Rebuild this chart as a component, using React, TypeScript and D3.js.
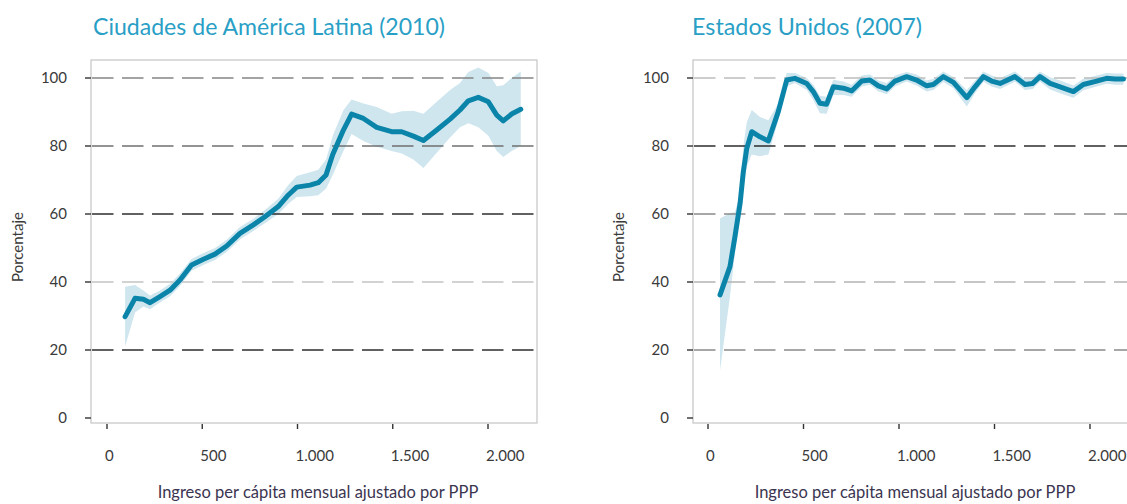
import React from "react";
import * as d3 from "d3";

// ---------- data ----------
const yTicks = [0, 20, 40, 60, 80, 100];
const xTicks = [0, 500, 1000, 1500, 2000];
const xTickLabels = ["0", "500", "1.000", "1.500", "2.000"];
const gridLevels = [20, 40, 60, 80, 100];

const titles = ["Ciudades de América Latina (2010)", "Estados Unidos (2007)"];
const xAxisTitle = "Ingreso per cápita mensual ajustado por PPP";
const yAxisTitle = "Porcentaje";

// Latin America: income, estimate, upper, lower
const latamIncome = [95, 147, 191, 226, 278, 331, 383, 444, 506, 567, 628, 698, 768, 829, 899, 952, 996, 1066, 1109, 1150, 1185, 1241, 1284, 1346, 1416, 1494, 1547, 1608, 1661, 1731, 1801, 1853, 1897, 1949, 2002, 2046, 2080, 2124, 2172];
const latamValue = [29.8, 35.2, 34.9, 33.9, 35.7, 37.6, 40.6, 45, 46.7, 48.2, 50.6, 54.3, 56.8, 59.2, 62.2, 65.6, 67.9, 68.5, 69.2, 71.5, 77.5, 84.7, 89.4, 88.1, 85.5, 84.2, 84.2, 82.9, 81.6, 84.7, 87.9, 90.6, 93.3, 94.3, 93.0, 89.1, 87.4, 89.4, 90.8];
const latamUpper = [38.6, 39.1, 37.5, 36, 37.5, 39.5, 42.5, 46.8, 48.5, 50, 52.4, 56.2, 58.6, 61.2, 64.5, 68.5, 71.2, 72.3, 73, 76, 83, 90.5, 93.7, 92.5, 91.5, 89.5, 90.2, 90.4, 89.5, 93, 96.5, 98.5, 101.8, 103.1, 101.5, 97.6, 97.9, 100, 101.9];
const latamLower = [21, 31, 32.8, 32, 34, 35.8, 38.8, 43.3, 45, 46.5, 48.8, 52.5, 55, 57.3, 60, 63, 65, 65.2, 65.5, 67.5, 71.5, 78.5, 83.5, 81.5, 79.8, 78.5, 77.8, 76, 73.5, 78, 82.5, 85.5, 86.7, 85.5, 83, 78.5, 76.8, 78.5, 80];

// United States
const usIncome = [63, 115, 141, 168, 185, 203, 229, 272, 316, 368, 412, 455, 517, 551, 586, 621, 656, 709, 752, 805, 848, 892, 936, 979, 1040, 1092, 1145, 1180, 1232, 1285, 1355, 1398, 1442, 1485, 1529, 1607, 1660, 1700, 1738, 1791, 1843, 1913, 1965, 2035, 2087, 2131, 2175];
const usValue = [36.2, 44.5, 53.3, 63.1, 72.5, 79.3, 84.2, 82.7, 81.5, 90.1, 99.4, 99.9, 98.4, 96, 92.6, 92.3, 97.4, 97, 96.2, 99.1, 99.4, 97.7, 96.8, 99.1, 100.4, 99.4, 97.7, 98.1, 100.4, 98.7, 94.2, 97.4, 100.4, 99.1, 98.4, 100.4, 98.1, 98.4, 100.4, 98.4, 97.4, 96, 98.1, 99.1, 99.9, 99.7, 99.7];
const usUpper = [58.7, 60.3, 60.5, 66, 80, 87, 90.6, 88.5, 87.6, 92.5, 101.5, 101.5, 100, 98, 94.8, 94.5, 99.5, 99, 98, 100.7, 101, 99.3, 98.5, 100.7, 101.8, 101, 99.3, 99.8, 101.9, 100.3, 96.5, 99.3, 101.9, 100.7, 100, 101.9, 99.7, 100, 101.9, 100.2, 99.3, 97.8, 99.8, 100.7, 101.5, 101.3, 101.3];
const usLower = [14, 35.7, 48.5, 60, 68, 74, 77.5, 77, 77.5, 87.5, 97.5, 98.5, 96.5, 93.5, 89.6, 89.5, 95, 95, 94.5, 97.5, 98, 96, 95.2, 97.5, 99, 97.8, 96, 96.5, 98.8, 97, 91.6, 95.5, 98.9, 97.5, 96.8, 98.9, 96.5, 96.8, 98.9, 96.6, 95.5, 94.2, 96.4, 97.5, 98.3, 98, 98];

// grid line colours per panel (in gridLevels order)
const latamGridColors = ["#2e2e2e", "#c4c4c4", "#2e2e2e", "#707070", "#858585"];
const usGridColors = ["#8a8a8a", "#b4b4b4", "#8a8a8a", "#2e2e2e", "#bdbdbd"];

const LINE = "#0a84a8";
const BAND = "#cfe6ef";
const TITLE = "#2a9fc6";
const TEXT = "#3a3a3a";
const FONT = "Lato, 'Open Sans', sans-serif";

type Pt = { x: number; v: number; u: number; l: number };

function Panel(props: {
  frameX0: number;
  frameX1: number;
  x0px: number;
  x2000px: number;
  title: string;
  titleX: number;
  titleW: number;
  yTitleX: number;
  xTitleX: number;
  income: number[];
  value: number[];
  upper: number[];
  lower: number[];
  gridColors: string[];
}) {
  const p = props;
  const top = 60;
  const bottom = 423;
  const x = d3.scaleLinear().domain([0, 2000]).range([p.x0px, p.x2000px]);
  const y = d3.scaleLinear().domain([0, 100]).range([418, 78]);
  const pts: Pt[] = p.income.map((inc, i) => ({ x: inc, v: p.value[i], u: p.upper[i], l: p.lower[i] }));
  const area = d3
    .area<Pt>()
    .x((d) => x(d.x))
    .y0((d) => y(d.l))
    .y1((d) => y(d.u));
  const line = d3
    .line<Pt>()
    .x((d) => x(d.x))
    .y((d) => y(d.v));
  return (
    <g>
      <text x={p.titleX} y={35} fontFamily={FONT} fontSize={23} fill={TITLE} textLength={p.titleW} lengthAdjust="spacingAndGlyphs">
        {p.title}
      </text>
      <rect x={p.frameX0} y={top} width={p.frameX1 - p.frameX0} height={bottom - top} fill="none" stroke="#c9c9c9" strokeWidth={1.3} />
      <path d={area(pts) || ""} fill={BAND} />
      {gridLevels.map((g, i) => (
        <line
          key={g}
          x1={p.frameX0 + 1}
          x2={p.frameX1}
          y1={y(g)}
          y2={y(g)}
          stroke={p.gridColors[i]}
          strokeWidth={1.6}
          strokeDasharray="21.5 8.5"
        />
      ))}
      <path d={line(pts) || ""} fill="none" stroke={LINE} strokeWidth={5} strokeLinejoin="round" strokeLinecap="round" />
      {yTicks.map((t) => (
        <g key={t}>
          <line x1={p.frameX0 - 6} x2={p.frameX0} y1={y(t)} y2={y(t)} stroke="#333" strokeWidth={1.4} />
          <text x={p.frameX0 - 24} y={y(t) + 5} textAnchor="end" fontFamily={FONT} fontSize={15} fill={TEXT}>
            {t}
          </text>
        </g>
      ))}
      {xTicks.map((t, i) => (
        <g key={t}>
          <line x1={x(t)} x2={x(t)} y1={424} y2={429} stroke="#333" strokeWidth={1.4} />
          <text x={x(t) - 2} y={461} textAnchor="start" fontFamily={FONT} fontSize={15} fill={TEXT}>
            {xTickLabels[i]}
          </text>
        </g>
      ))}
      <text x={p.xTitleX} y={498} textAnchor="middle" fontFamily={FONT} fontSize={16.5} fill="#3b3550">
        {xAxisTitle}
      </text>
      <text
        transform={`translate(${p.yTitleX},247) rotate(-90)`}
        textAnchor="middle"
        fontFamily={FONT}
        fontSize={15}
        fill={TEXT}
      >
        {yAxisTitle}
      </text>
    </g>
  );
}

export default function App() {
  return (
    <svg
      width={1127}
      height={504}
      style={{ position: "absolute", left: 0, top: 0, background: "#fff" }}
    >
      <rect x={0} y={0} width={1127} height={504} fill="#fff" />
      <Panel
        frameX0={91}
        frameX1={537}
        x0px={107}
        x2000px={488}
        title={titles[0]}
        titleX={93}
        titleW={352}
        yTitleX={23}
        xTitleX={318}
        income={latamIncome}
        value={latamValue}
        upper={latamUpper}
        lower={latamLower}
        gridColors={latamGridColors}
      />
      <Panel
        frameX0={693}
        frameX1={1135}
        x0px={708}
        x2000px={1090}
        title={titles[1]}
        titleX={692}
        titleW={230}
        yTitleX={624}
        xTitleX={915}
        income={usIncome}
        value={usValue}
        upper={usUpper}
        lower={usLower}
        gridColors={usGridColors}
      />
    </svg>
  );
}
